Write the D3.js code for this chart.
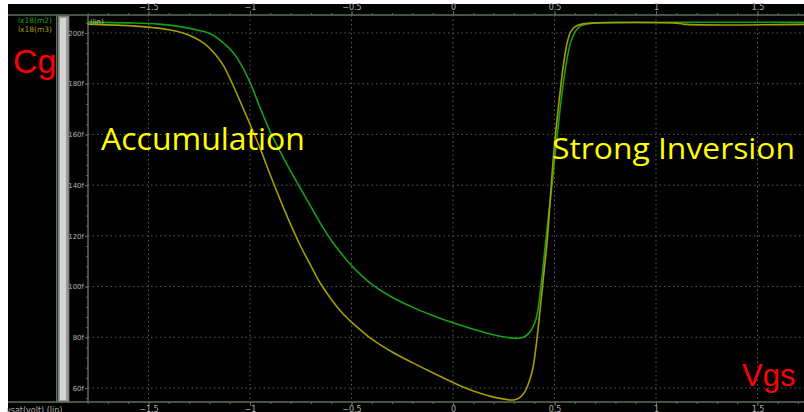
<!DOCTYPE html>
<html lang="en">
<head>
<meta charset="utf-8">
<title>Cg vs Vgs</title>
<script src="https://d3js.org/d3.v7.js"></script>
<style>
  body { margin: 0; background: #fff; }
</style>
</head>
<body>
<script>

// size of the picture
var w = 804;
var h = 412;

// x ticks (Vgs, volt) and y ticks (Cg, fF)
var xMajor = [-1.5, -1, -0.5, 0, 0.5, 1, 1.5];
var yMajor = [60, 80, 100, 120, 140, 160, 180, 200];

// lx18(m2) - green curve
var m2V = [-1.8, -1.6, -1.45, -1.35, -1.25, -1.19, -1.13, -1.08, -1.04, -1.0, -0.95, -0.9, -0.85, -0.8, -0.75, -0.7, -0.65, -0.6, -0.55, -0.5, -0.45, -0.4, -0.3, -0.2, -0.1, 0, 0.1, 0.2, 0.27, 0.32, 0.355, 0.385, 0.41, 0.433, 0.453, 0.473, 0.493, 0.51, 0.527, 0.545, 0.562, 0.58, 0.6, 0.625, 0.66, 0.7, 0.8, 1.73];
var m2C = [204.3, 204.0, 203.5, 202.6, 201.0, 199.5, 196.0, 192.0, 187.0, 180.5, 170.5, 161.0, 153.0, 145.5, 138.5, 131.5, 124.5, 118.3, 113.0, 108.3, 104.3, 100.9, 95.8, 91.9, 88.6, 85.7, 83.2, 81.0, 79.9, 79.6, 80.3, 82.8, 87.5, 100, 115, 130, 144, 157, 169.6, 181, 190, 196.5, 200.3, 202.6, 203.6, 204.0, 204.2, 204.2];

// lx18(m3) - olive curve
var m3V = [-1.8, -1.6, -1.5, -1.4, -1.33, -1.27, -1.22, -1.17, -1.13, -1.087, -1.04, -1.0, -0.95, -0.9, -0.85, -0.8, -0.75, -0.7, -0.655, -0.6, -0.55, -0.5, -0.45, -0.4, -0.3, -0.2, -0.1, 0, 0.05, 0.1, 0.2, 0.26, 0.3, 0.33, 0.355, 0.375, 0.394, 0.41, 0.429, 0.446, 0.463, 0.478, 0.493, 0.51, 0.527, 0.545, 0.562, 0.58, 0.6, 0.63, 0.69, 1.1, 1.15, 1.73];
var m3C = [203.5, 202.9, 202.3, 201.3, 200.0, 198.0, 195.5, 191.5, 187.0, 180.0, 171.5, 164.0, 154.5, 144.0, 134.0, 124.5, 115.8, 108.2, 101.5, 95.0, 90.0, 86.0, 82.5, 79.3, 74.2, 70.0, 66.0, 62.2, 60.4, 58.8, 56.4, 55.5, 55.3, 56.3, 58.7, 62.5, 68, 77, 90.8, 104, 117.2, 133, 149.5, 164, 176.3, 188, 196, 200.5, 202.4, 203.4, 203.9, 203.9, 203.4, 203.4];

var seriesNames = ["lx18(m2)", "lx18(m3)"];
var seriesColors = ["#15a015", "#a49c00"];

// scales
var x = d3.scaleLinear().domain([-1.5, 1.5]).range([148.5, 757.5]);
var y = d3.scaleLinear().domain([60, 200]).range([388, 33]);

var plotLeft = 88, plotTop = 15, plotBottom = 402;

var svg = d3.select("body").append("svg")
  .attr("width", w)
  .attr("height", h)
  .style("display", "block");

// white frame, black screen
svg.append("rect").attr("width", w).attr("height", h).attr("fill", "#fff");
svg.append("rect")
  .attr("x", 8).attr("y", 4)
  .attr("width", w - 8).attr("height", h - 4)
  .attr("fill", "#000");

// dotted grid
svg.append("g").selectAll("line")
  .data(yMajor)
  .enter().append("line")
  .attr("x1", plotLeft).attr("x2", w)
  .attr("y1", d => y(d)).attr("y2", d => y(d))
  .attr("stroke", "#5a5a5a")
  .attr("stroke-dasharray", "1.5,3");

svg.append("g").selectAll("line")
  .data(xMajor)
  .enter().append("line")
  .attr("x1", d => x(d)).attr("x2", d => x(d))
  .attr("y1", plotTop).attr("y2", plotBottom)
  .attr("stroke", "#5a5a5a")
  .attr("stroke-dasharray", "1.5,3");

// scrollbar strip
var axisColor = "#5d6f5d";
svg.append("line")
  .attr("x1", 56.5).attr("x2", 56.5)
  .attr("y1", plotTop).attr("y2", plotBottom)
  .attr("stroke", axisColor);
svg.append("rect")
  .attr("x", 58).attr("y", 16)
  .attr("width", 11).attr("height", 386)
  .attr("fill", "#9a9a9a").attr("stroke", "#5d6f5d");
svg.append("rect")
  .attr("x", 60).attr("y", 18)
  .attr("width", 6).attr("height", 382)
  .attr("fill", "#d4d4d4");

// axes
var labelColor = "#b0b0b0";

function styleAxis(size) {
  return function(g) {
    g.select(".domain").remove();
    g.selectAll(".tick line").attr("stroke", axisColor);
    g.selectAll(".tick text")
      .attr("fill", labelColor)
      .style("font-family", "'DejaVu Sans', sans-serif")
      .style("font-size", size + "px");
  };
}

var minorX = d3.range(-18, 18).map(d => d / 10);
var minorY = d3.range(56, 208, 4);

// top axis
svg.append("line")
  .attr("x1", 8).attr("x2", w)
  .attr("y1", plotTop).attr("y2", plotTop)
  .attr("stroke", axisColor).attr("stroke-width", 1.5);
svg.append("g")
  .attr("transform", `translate(0, ${plotTop})`)
  .call(d3.axisTop(x).tickValues(minorX).tickSize(2).tickFormat(""))
  .call(styleAxis(8));
svg.append("g")
  .attr("transform", `translate(0, ${plotTop})`)
  .call(d3.axisTop(x).tickValues(xMajor).tickSize(4).tickPadding(1).tickFormat(d3.format("")))
  .call(styleAxis(8));

// bottom axis
svg.append("line")
  .attr("x1", 8).attr("x2", w)
  .attr("y1", plotBottom).attr("y2", plotBottom)
  .attr("stroke", axisColor).attr("stroke-width", 1.5);
svg.append("g")
  .attr("transform", `translate(0, ${plotBottom})`)
  .call(d3.axisBottom(x).tickValues(minorX).tickSize(2).tickFormat(""))
  .call(styleAxis(8));
svg.append("g")
  .attr("transform", `translate(0, ${plotBottom})`)
  .call(d3.axisBottom(x).tickValues(xMajor).tickSize(4).tickPadding(0).tickFormat(d3.format("")))
  .call(styleAxis(8));

// left axis
svg.append("line")
  .attr("x1", plotLeft).attr("x2", plotLeft)
  .attr("y1", plotTop).attr("y2", plotBottom)
  .attr("stroke", axisColor).attr("stroke-width", 1.5);
svg.append("g")
  .attr("transform", `translate(${plotLeft}, 0)`)
  .call(d3.axisLeft(y).tickValues(minorY.filter(d => y(d) > plotTop && y(d) < plotBottom)).tickSize(2).tickFormat(""))
  .call(styleAxis(7));
svg.append("g")
  .attr("transform", `translate(${plotLeft}, 0)`)
  .call(d3.axisLeft(y).tickValues(yMajor).tickSize(3).tickPadding(1).tickFormat(d => d + "f"))
  .call(styleAxis(7));

// curves
var line = d3.line()
  .x(d => x(d[0]))
  .y(d => y(d[1]))
  .curve(d3.curveCatmullRom.alpha(0.5));

var curves = [d3.zip(m2V, m2C), d3.zip(m3V, m3C)];

svg.append("g")
  .selectAll("path")
  .data(curves)
  .enter().append("path")
  .attr("d", line)
  .attr("fill", "none")
  .attr("stroke", (d, i) => seriesColors[i])
  .attr("stroke-width", 1.6);

// legend
svg.append("g").selectAll("text")
  .data(seriesNames)
  .enter().append("text")
  .attr("x", 18)
  .attr("y", (d, i) => 23 + i * 9)
  .attr("fill", (d, i) => seriesColors[i])
  .style("font-family", "'DejaVu Sans', sans-serif")
  .style("font-size", "7.5px")
  .text(d => d);

// axis unit labels
svg.append("text")
  .attr("x", 90).attr("y", 24)
  .attr("fill", "#c8c090")
  .style("font-family", "'DejaVu Sans', sans-serif")
  .style("font-size", "7px")
  .text("(lin)");

svg.append("text")
  .attr("x", 6).attr("y", 413)
  .attr("fill", labelColor)
  .style("font-family", "'DejaVu Sans', sans-serif")
  .style("font-size", "8px")
  .text("vsat(volt) (lin)");

// annotations
svg.append("text")
  .attr("x", 13).attr("y", 73)
  .attr("fill", "#ff0000")
  .style("font-family", "'Liberation Sans', Arial, sans-serif")
  .style("font-size", "34px")
  .text("Cg");

svg.append("text")
  .attr("x", 742).attr("y", 386)
  .attr("fill", "#ff0000")
  .style("font-family", "'Liberation Sans', Arial, sans-serif")
  .style("font-size", "31px")
  .text("Vgs");

svg.append("text")
  .attr("x", 101).attr("y", 150)
  .attr("fill", "#ffff00")
  .style("font-family", "'Open Sans', sans-serif")
  .style("font-size", "31px")
  .attr("textLength", 204)
  .attr("lengthAdjust", "spacingAndGlyphs")
  .text("Accumulation");

svg.append("text")
  .attr("x", 552).attr("y", 159)
  .attr("fill", "#ffff00")
  .style("font-family", "'Open Sans', sans-serif")
  .style("font-size", "30px")
  .attr("textLength", 243)
  .attr("lengthAdjust", "spacingAndGlyphs")
  .text("Strong Inversion");

</script>
</body>
</html>
